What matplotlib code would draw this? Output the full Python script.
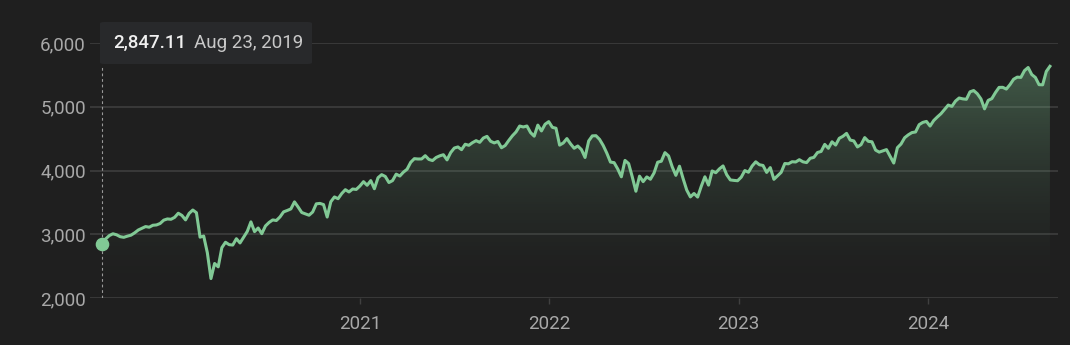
import numpy as np
import pandas as pd
import matplotlib
matplotlib.use("Agg")
import matplotlib.pyplot as plt
from matplotlib.patches import FancyBboxPatch
from matplotlib.ticker import FuncFormatter

plt.rcParams["font.family"] = ["Roboto", "DejaVu Sans"]

# weekly closes (Fridays), Aug 23 2019 .. Aug 23 2024
CLOSE_2019 = [
    2847.11, 2926.46, 2978.71, 3007.39, 2992.07, 2961.79, 2952.01, 2970.27, 2986.20, 3022.55,
    3066.91, 3093.08, 3120.46, 3110.29, 3140.98, 3145.91, 3168.80, 3221.22, 3240.02,
]
CLOSE_2020 = [
    3234.85, 3265.35, 3329.62, 3295.47, 3225.52, 3327.71, 3380.16, 3337.75, 2954.22, 2972.37,
    2711.02, 2304.92, 2541.47, 2488.65, 2789.82, 2874.56, 2836.74, 2830.71, 2929.80, 2863.70,
    2955.45, 3044.31, 3193.93, 3041.31, 3097.74, 3009.05, 3130.01, 3185.04, 3224.73, 3215.63,
    3271.12, 3351.28, 3372.85, 3397.16, 3508.01, 3426.96, 3340.97, 3319.47, 3298.46, 3348.42,
    3477.13, 3483.81, 3465.39, 3269.96, 3509.44, 3585.15, 3557.54, 3638.35, 3699.12, 3663.46,
    3709.41, 3703.06,
]
CLOSE_2021 = [
    3756.07, 3824.68, 3768.25, 3841.47, 3714.24, 3886.83, 3934.83, 3906.71, 3811.15, 3841.94,
    3943.34, 3913.10, 3974.54, 4019.87, 4128.80, 4185.47, 4180.17, 4181.17, 4232.60, 4173.85,
    4155.86, 4204.11, 4229.89, 4247.44, 4166.45, 4280.70, 4352.34, 4369.55, 4327.16, 4411.79,
    4395.26, 4436.52, 4468.00, 4441.67, 4509.37, 4535.43, 4458.58, 4432.99, 4455.48, 4357.04,
    4391.34, 4471.37, 4544.90, 4605.38, 4697.53, 4682.85, 4697.96, 4594.62, 4538.43, 4712.02,
    4620.64, 4725.79, 4766.18,
]
CLOSE_2022 = [
    4677.03, 4662.85, 4397.94, 4431.85, 4500.53, 4418.64, 4348.87, 4384.65, 4328.87, 4204.31,
    4463.12, 4543.06, 4545.86, 4488.28, 4392.59, 4271.78, 4131.93, 4123.34, 4023.89, 3901.36,
    4158.24, 4108.54, 3900.86, 3674.84, 3911.74, 3825.33, 3899.38, 3863.16, 3961.63, 4130.29,
    4145.19, 4280.15, 4228.48, 4057.66, 3924.26, 4067.36, 3873.33, 3693.23, 3585.62, 3639.66,
    3583.07, 3752.75, 3901.06, 3770.55, 3992.93, 3965.34, 4026.12, 4071.70, 3934.38, 3852.36,
    3844.82, 3839.50,
]
CLOSE_2023 = [
    3895.08, 3999.09, 3972.61, 4070.56, 4136.48, 4090.46, 4079.09, 3970.04, 4045.64, 3861.59,
    3916.64, 3970.99, 4109.31, 4105.02, 4137.64, 4133.52, 4169.48, 4136.25, 4124.08, 4191.98,
    4205.45, 4282.37, 4298.86, 4409.59, 4348.33, 4450.38, 4398.95, 4505.42, 4536.34, 4582.23,
    4478.03, 4464.05, 4369.71, 4405.71, 4515.77, 4457.49, 4450.32, 4320.06, 4288.05, 4308.50,
    4327.78, 4224.16, 4117.37, 4358.34, 4415.24, 4514.02, 4559.34, 4594.63, 4604.37, 4719.19,
    4754.63, 4769.83,
]
CLOSE_2024 = [
    4697.24, 4783.83, 4839.81, 4890.97, 4958.61, 5026.61, 5005.57, 5088.80, 5137.08, 5123.69,
    5117.09, 5234.18, 5254.35, 5204.34, 5123.41, 4967.23, 5099.96, 5127.79, 5222.68, 5303.27,
    5304.72, 5277.51, 5346.99, 5431.60, 5464.62, 5460.48, 5567.19, 5615.35, 5505.00, 5459.10,
    5346.56, 5344.16, 5554.25, 5634.61,
]

Y_TICKS = [2000, 3000, 4000, 5000, 6000]
YEAR_TICKS = ["2021", "2022", "2023", "2024"]
TOOLTIP_VALUE = "2,847.11"
TOOLTIP_DATE = "Aug 23, 2019"

BG = "#1f1f1f"
LINE = "#81c995"
GRID = "#404040"
LABEL = "#a8a8a8"

W, H = 1070, 345


def main() -> None:
    values = np.array(CLOSE_2019 + CLOSE_2020 + CLOSE_2021 + CLOSE_2022 + CLOSE_2023 + CLOSE_2024)
    dates = pd.date_range("2019-08-23", periods=len(values), freq="W-FRI")
    x = dates.to_numpy()

    fig = plt.figure(figsize=(W / 100, H / 100), dpi=100, facecolor=BG)
    ax = fig.add_axes([90 / W, 1 - 298 / H, (1058 - 90) / W, (298 - 43) / H])
    ax.set_facecolor(BG)

    # x scale: first point -> 102 px, 2024-01-01 -> 928 px
    first = pd.Timestamp(dates[0])
    t2024 = pd.Timestamp("2024-01-01")
    px_per_day = (928 - 102) / (t2024 - first).days
    left = first - pd.Timedelta(days=(102 - 90) / px_per_day)
    right = t2024 + pd.Timedelta(days=(1058 - 928) / px_per_day)

    for y in Y_TICKS:
        ax.axhline(y, color=GRID, linewidth=1.1, zorder=1)

    # gradient fill under the line
    fill = ax.fill_between(x, values, 2000, color="none", linewidth=0)
    grad_t = np.linspace(0, 1, 256)[:, None]
    rgba = np.zeros((256, 1, 4))
    rgba[..., 0], rgba[..., 1], rgba[..., 2] = 0x81 / 255, 0xC9 / 255, 0x95 / 255
    rgba[..., 3] = 0.36 * grad_t ** 1.7
    img = ax.imshow(
        rgba, origin="lower", aspect="auto",
        extent=[matplotlib.dates.date2num(left), matplotlib.dates.date2num(right), 2000, 5700],
        zorder=2,
    )
    img.set_clip_path(fill.get_paths()[0], transform=ax.transData)
    ax.set_xlim(left, right)
    ax.set_ylim(2000, 6000)

    ax.plot(x, values, color=LINE, linewidth=2.2, solid_joinstyle="round", zorder=3)
    ax.plot(x[0], values[0], "o", color=LINE, markersize=8.8, zorder=4)

    # hover guide
    ax.plot([x[0], x[0]], [2000, 6000 - 22 * 4000 / 255], color="#9a9a9a",
            linewidth=0.8, linestyle=(0, (2.5, 2.5)), zorder=3)

    ax.set_yticks(Y_TICKS)
    ax.yaxis.set_major_formatter(FuncFormatter(lambda v, _: f"{int(v):,}"))
    ax.set_xticks([pd.Timestamp(f"{y}-01-01") for y in YEAR_TICKS])
    ax.set_xticklabels(YEAR_TICKS)
    ax.tick_params(axis="y", length=0, pad=3, labelsize=13.5, labelcolor=LABEL)
    ax.tick_params(axis="x", length=4, width=1, color=GRID, pad=8, labelsize=13.5, labelcolor=LABEL)
    for spine in ax.spines.values():
        spine.set_visible(False)

    # tooltip
    box = FancyBboxPatch(
        (100 / W, 1 - 64 / H), 212 / W, 42 / H,
        boxstyle="round,pad=0,rounding_size=0.004",
        transform=fig.transFigure, facecolor="#28292b", edgecolor="none", zorder=5,
    )
    fig.patches.append(box)
    fig.text(113 / W, 1 - 43 / H, TOOLTIP_VALUE, color="#f0f0f0", fontsize=13.5,
             fontweight="medium", va="center", ha="left", zorder=6)
    fig.text(194 / W, 1 - 43 / H, TOOLTIP_DATE, color="#c8c8c8", fontsize=13.5,
             va="center", ha="left", zorder=6)

    fig.savefig("out.png", dpi=100, facecolor=BG)
    plt.close(fig)


if __name__ == "__main__":
    main()
